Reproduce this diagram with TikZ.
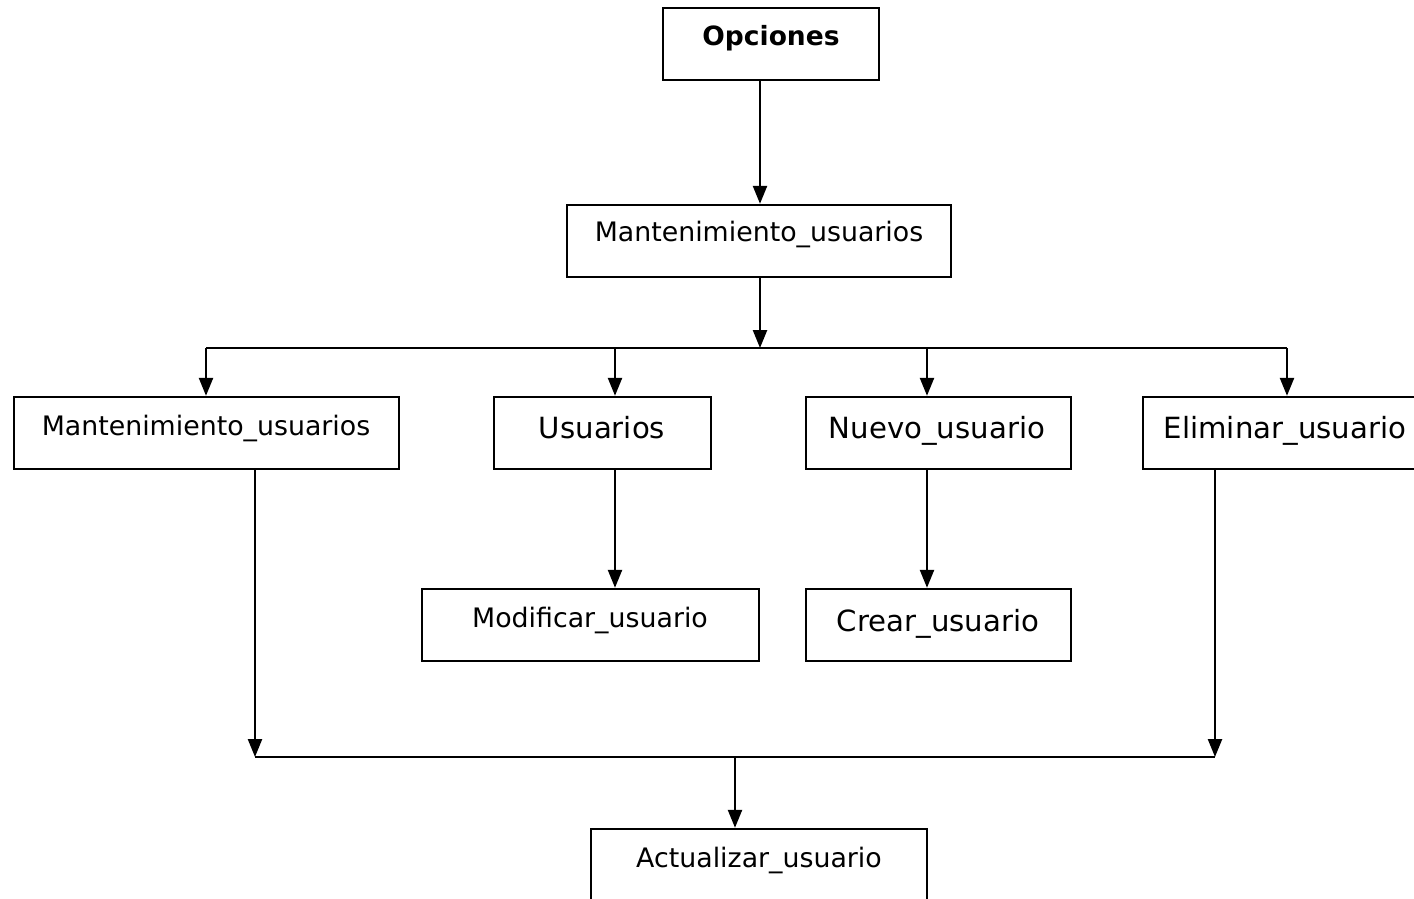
\documentclass[tikz,border=0pt]{standalone}
\usepackage{fontspec}
\setmainfont{DejaVu Sans}
\usetikzlibrary{arrows.meta}
\tikzset{
  box/.style={draw, line width=2.4pt, inner sep=0pt, minimum height=72pt},
  lbl/.style={anchor=base, inner sep=0pt, font=\fontsize{26.8}{31}\selectfont},
  lblbig/.style={anchor=base, inner sep=0pt, font=\fontsize{29.2}{34}\selectfont},
  lblbold/.style={anchor=base, inner sep=0pt, font=\fontsize{26.5}{30}\selectfont\bfseries},
  arr/.style={line width=2.4pt, -{Triangle[width=14pt,length=18pt]}},
  ln/.style={line width=2.4pt}
}
\begin{document}
\begin{tikzpicture}[x=1pt,y=-1pt]
\useasboundingbox (0,0) rectangle (1414,898);
\clip (0,0) rectangle (1414,898);
% boxes
\node[box, minimum width=216pt] (op) at (771,44) {};
\node[box, minimum width=384pt] (mt) at (759,241) {};
\node[box, minimum width=385pt] (l) at (206.5,433) {};
\node[box, minimum width=217pt] (u) at (602.5,433) {};
\node[box, minimum width=265pt] (n) at (938.5,433) {};
\node[box, minimum width=281pt] (e) at (1283.5,433) {};
\node[box, minimum width=337pt] (m) at (590.5,625) {};
\node[box, minimum width=265pt] (c) at (938.5,625) {};
\node[box, minimum width=336pt, minimum height=76pt] (a) at (759,867) {};
% labels
\node[lblbold] (opt) at (771,45) {Opciones};
\node[lbl] (mtt) at (759,241) {Mantenimiento\_usuarios};
\node[lbl] (lt) at (206,435) {Mantenimiento\_usuarios};
\node[lblbig] (ut) at (602,438) {Usuarios};
\node[lblbig] (nt) at (937,438) {Nuevo\_usuario};
\node[lblbig] (et) at (1285,438) {Eliminar\_usuario};
\node[lbl] (mt2) at (590,627) {Modificar\_usuario};
\node[lblbig] (ct) at (938,631) {Crear\_usuario};
\node[lbl] (at) at (759,867) {Actualizar\_usuario};
% coordinates
\coordinate (top) at (760,0);
\coordinate (bus) at (760,348);
\coordinate (b1) at (206,348);
\coordinate (b2) at (615,348);
\coordinate (b3) at (927,348);
\coordinate (b4) at (1287,348);
\coordinate (c1) at (255,757);
\coordinate (c2) at (1215,757);
\coordinate (c3) at (735,757);
% connectors
\draw[arr] (top |- op.south) -- (top |- mt.north);
\draw[arr] (top |- mt.south) -- (bus);
\draw[ln] (b1) -- (b4);
\draw[arr] (b1) -- (b1 |- l.north);
\draw[arr] (b2) -- (b2 |- u.north);
\draw[arr] (b3) -- (b3 |- n.north);
\draw[arr] (b4) -- (b4 |- e.north);
\draw[arr] (b2 |- u.south) -- (b2 |- m.north);
\draw[arr] (b3 |- n.south) -- (b3 |- c.north);
\draw[arr] (c1 |- l.south) -- (c1);
\draw[arr] (c2 |- e.south) -- (c2);
\draw[ln] (c1) -- (c2);
\draw[arr] (c3) -- (c3 |- a.north);
\end{tikzpicture}
\end{document}
